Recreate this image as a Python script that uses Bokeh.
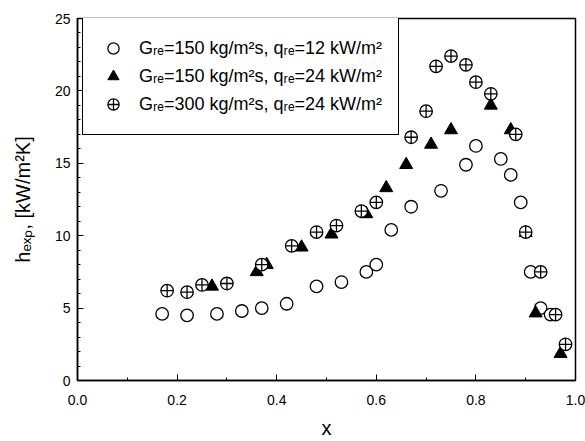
from bokeh.plotting import figure
from bokeh.models import SingleIntervalTicker, NumeralTickFormatter, Range1d
from bokeh.embed import file_html
from bokeh.resources import INLINE

# Series 1: G_re=150 kg/m2s, q_re=12 kW/m2 (open circles)
x1 = [0.17, 0.22, 0.28, 0.33, 0.37, 0.42, 0.48, 0.53, 0.58, 0.60, 0.63, 0.67,
      0.73, 0.78, 0.80, 0.85, 0.87, 0.89, 0.91, 0.93, 0.95]
y1 = [4.6, 4.5, 4.6, 4.8, 5.0, 5.3, 6.5, 6.8, 7.5, 8.0, 10.4, 12.0,
      13.1, 14.9, 16.2, 15.3, 14.2, 12.3, 7.5, 5.0, 4.55]

# Series 2: G_re=150 kg/m2s, q_re=24 kW/m2 (filled triangles)
x2 = [0.27, 0.36, 0.38, 0.45, 0.51, 0.58, 0.62, 0.66, 0.71, 0.75, 0.83,
      0.87, 0.90, 0.92, 0.97]
y2 = [6.5, 7.5, 8.0, 9.2, 10.1, 11.5, 13.3, 14.9, 16.3, 17.3, 19.0,
      17.3, 10.2, 4.65, 1.85]

# Series 3: G_re=300 kg/m2s, q_re=24 kW/m2 (crossed circles)
x3 = [0.18, 0.22, 0.25, 0.30, 0.37, 0.43, 0.48, 0.52, 0.57, 0.60, 0.67,
      0.70, 0.72, 0.75, 0.78, 0.80, 0.83, 0.88, 0.90, 0.93, 0.96, 0.98]
y3 = [6.2, 6.1, 6.6, 6.7, 8.0, 9.3, 10.25, 10.7, 11.7, 12.3, 16.8,
      18.6, 21.7, 22.4, 21.8, 20.6, 19.8, 17.0, 10.25, 7.5, 4.55, 2.5]

labels = ["Gᵣₑ=150 kg/m²s, qᵣₑ=12 kW/m²",
          "Gᵣₑ=150 kg/m²s, qᵣₑ=24 kW/m²",
          "Gᵣₑ=300 kg/m²s, qᵣₑ=24 kW/m²"]

FONT = "Liberation Sans"

p = figure(width=585, height=441, output_backend="svg", toolbar_location=None,
           x_range=Range1d(0, 1), y_range=Range1d(0, 25),
           min_border_left=77, min_border_right=10, min_border_top=18,
           min_border_bottom=59)

p.scatter(x1, y1, marker="circle", size=12.5, fill_color="white",
          line_color="black", line_width=1.3, legend_label=labels[0])
p.scatter(x2, y2, marker="triangle", size=13, fill_color="black",
          line_color="black", line_width=1, legend_label=labels[1])
p.scatter(x3, y3, marker="circle_cross", size=12.5, fill_color="white",
          line_color="black", line_width=1.3, legend_label=labels[2])

p.xgrid.visible = False
p.ygrid.visible = False
p.outline_line_color = "black"
p.outline_line_width = 1.5
p.outline_line_alpha = 1
p.background_fill_color = "white"
p.border_fill_color = "white"

p.xaxis.ticker = SingleIntervalTicker(interval=0.2, num_minor_ticks=2)
p.xaxis.formatter = NumeralTickFormatter(format="0.0")
p.yaxis.ticker = SingleIntervalTicker(interval=5, num_minor_ticks=5)

for ax in (p.xaxis[0], p.yaxis[0]):
    ax.axis_line_color = "black"
    ax.axis_line_width = 1.5
    ax.major_tick_in = 6
    ax.major_tick_out = 0
    ax.minor_tick_in = 3
    ax.minor_tick_out = 0
    ax.major_tick_line_color = "black"
    ax.minor_tick_line_color = "black"
    ax.major_label_text_font = FONT
    ax.major_label_text_font_size = "14px"
    ax.major_label_text_color = "black"
    ax.axis_label_text_font = FONT
    ax.axis_label_text_font_size = "20px"
    ax.axis_label_text_font_style = "normal"
    ax.axis_label_text_color = "black"

p.xaxis.axis_label = "x"
p.xaxis.major_label_standoff = 14
p.xaxis.axis_label_standoff = 9
p.yaxis.axis_label = "hₑₓₚ, [kW/m²K]"
p.yaxis.major_label_standoff = 7
p.yaxis.axis_label_standoff = 18

lg = p.legend[0]
lg.location = (5, 245)
lg.margin = 0
lg.padding = 16
lg.spacing = 0
lg.glyph_width = 28
lg.glyph_height = 28
lg.label_height = 28
lg.label_standoff = 12
lg.label_text_font = FONT
lg.label_text_font_size = "18px"
lg.label_text_color = "black"
lg.border_line_color = "black"
lg.border_line_alpha = 1
lg.border_line_width = 1.2
lg.background_fill_alpha = 1

open("out.html", "w").write(file_html(p, INLINE))
